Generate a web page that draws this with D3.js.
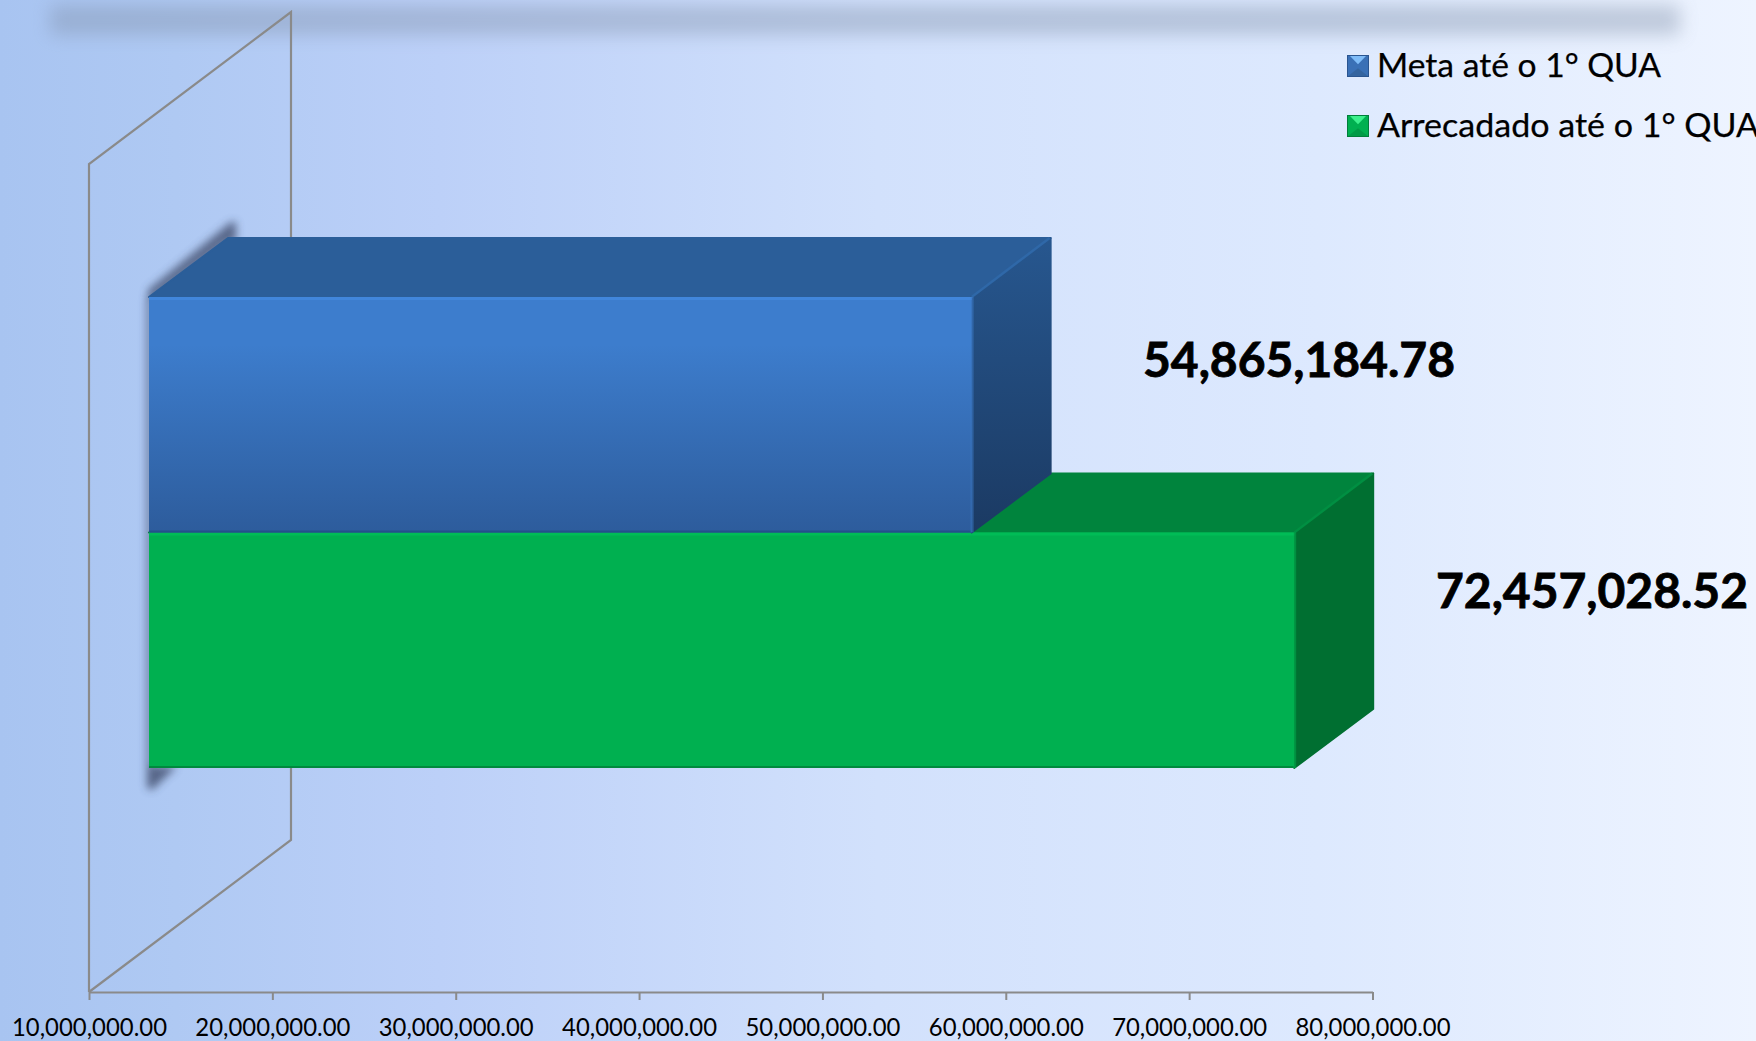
<!DOCTYPE html>
<html>
<head>
<meta charset="utf-8">
<script src="https://cdn.jsdelivr.net/npm/d3@7"></script>
<style>
html,body{margin:0;padding:0;background:#e8f0ff;overflow:hidden}
svg{display:block}
text{font-family:Lato,"Open Sans",sans-serif;fill:#000}
</style>
</head>
<body>
<svg id="chart" width="1756" height="1041"></svg>
<script>
// Collection figures for the first quarter
const seriesNames = ["Meta até o 1° QUA", "Arrecadado até o 1° QUA"];
const seriesValues = [54865184.78, 72457028.52];
const axisTicks = [10000000, 20000000, 30000000, 40000000, 50000000, 60000000, 70000000, 80000000];

const W = 1756, H = 1041;
const svg = d3.select("#chart");
const defs = svg.append("defs");

// Perspective offsets of the oblique 3D box
const wallDepth = {dx: 202, dy: -152};
const gapDepth = {dx: 60, dy: -44};
const barDepth = {dx: 79, dy: -59};

const x = d3.scaleLinear().domain([10000000, 80000000]).range([89, 1372.5]);
const y = d3.scaleBand().domain(seriesNames).range([297, 768]);
const axisY = 992;
const wallTop = 164;

const styles = [
  {top: "#2b5e99", topEdge: "#2f68a8", side0: "#27578f", side1: "#1b3a63", front0: "#3d7dcd", front1: "#2d5c9c", edge: "#24508a", sw0: "#7fbcf8", sw1: "#3a70b6", sw2: "#2a5590", sw3: "#34649f"},
  {top: "#00843d", topEdge: "#008f42", side0: "#006f31", side1: "#006f31", front0: "#00b050", front1: "#00b050", edge: "#008a3e", sw0: "#3cf08c", sw1: "#00b050", sw2: "#007f3a", sw3: "#009a46"}
];

function linear(id, horizontal, stops) {
  const g = defs.append("linearGradient").attr("id", id)
    .attr("x1", 0).attr("y1", 0).attr("x2", horizontal ? 1 : 0).attr("y2", horizontal ? 0 : 1);
  stops.forEach(([o, c]) => g.append("stop").attr("offset", o).attr("stop-color", c));
}
linear("bg", true, [[0, "#a8c4f1"], [0.1, "#afc9f3"], [0.25, "#bcd0f8"], [0.5, "#d2e1fc"], [0.75, "#dde9fe"], [1, "#eef4ff"]]);
styles.forEach((s, i) => {
  linear("front" + i, false, [[0, s.front0], [0.2, s.front0], [1, s.front1]]);
  linear("side" + i, false, [[0, s.side0], [1, s.side1]]);
});
defs.append("filter").attr("id", "blurBand").attr("x", "-5%").attr("y", "-150%").attr("width", "110%").attr("height", "400%")
  .append("feGaussianBlur").attr("stdDeviation", 9);
defs.append("filter").attr("id", "blurShadow").attr("x", "-30%").attr("y", "-30%").attr("width", "160%").attr("height", "160%")
  .append("feGaussianBlur").attr("stdDeviation", 4.5);

// Page background and the soft band along the top edge
svg.append("rect").attr("width", W).attr("height", H).attr("fill", "url(#bg)");
svg.append("rect").attr("x", 50).attr("y", 5).attr("width", 1630).attr("height", 30)
  .attr("fill", "#7f8fa8").attr("opacity", 0.4).attr("filter", "url(#blurBand)");

// Side wall of the 3D plot area
const wallLine = d3.line();
svg.append("path")
  .attr("d", wallLine([
    [x(axisTicks[0]), axisY],
    [x(axisTicks[0]), wallTop],
    [x(axisTicks[0]) + wallDepth.dx, wallTop + wallDepth.dy],
    [x(axisTicks[0]) + wallDepth.dx, axisY + wallDepth.dy],
    [x(axisTicks[0]), axisY]
  ]))
  .attr("fill", "none")
  .attr("stroke", "#8a8a8a").attr("stroke-width", 2.2);

// Shadows the boxes throw on the wall
const bx0 = x(axisTicks[0]) + gapDepth.dx;
const yTop = y.range()[0], yBot = y.range()[1];
const shadow = svg.append("g").attr("filter", "url(#blurShadow)").attr("fill", "#34405e").attr("opacity", 0.72);
shadow.append("path").attr("d", wallLine([
  [bx0 - 1, yTop + 6], [bx0 - 1, yTop - 7], [bx0 + barDepth.dx + 3, yTop + barDepth.dy - 16],
  [bx0 + barDepth.dx + 8, yTop + barDepth.dy - 16], [bx0 + barDepth.dx + 8, yTop + barDepth.dy + 4], [bx0 + barDepth.dx, yTop + barDepth.dy + 4]
]));
shadow.append("rect").attr("x", bx0 - 2).attr("y", yTop).attr("width", 5).attr("height", yBot - yTop);
shadow.append("path").attr("d", wallLine([
  [bx0 - 2, yBot - 2], [bx0 - 2, yBot + 20], [bx0 + 3, yBot + 22], [bx0 + 28, yBot - 2]
]));

// One oblique box per series; the later (lower) series goes underneath
const bars = seriesNames.map((name, i) => ({name, value: seriesValues[i], i}));
const barG = svg.selectAll("g.bar").data(bars.slice().reverse()).join("g").attr("class", "bar");
barG.each(function (d) {
  const g = d3.select(this), s = styles[d.i];
  const x0 = bx0, x1 = x(d.value) + gapDepth.dx;
  const y0 = y(d.name), y1 = y0 + y.bandwidth();
  const ddx = barDepth.dx, ddy = barDepth.dy;
  g.append("path").attr("fill", s.top).attr("stroke", s.top).attr("stroke-width", 2).attr("stroke-linejoin", "round")
    .attr("d", wallLine([[x0, y0], [x0 + ddx, y0 + ddy], [x1 + ddx, y0 + ddy], [x1, y0]]) + "Z");
  g.append("path").attr("fill", `url(#side${d.i})`).attr("stroke", `url(#side${d.i})`).attr("stroke-width", 2).attr("stroke-linejoin", "round")
    .attr("d", wallLine([[x1, y0], [x1 + ddx, y0 + ddy], [x1 + ddx, y1 + ddy], [x1, y1]]) + "Z");
  g.append("line").attr("x1", x1).attr("y1", y0).attr("x2", x1 + ddx - 1).attr("y2", y0 + ddy)
    .attr("stroke", s.topEdge).attr("stroke-width", 2.5);
  g.append("rect").attr("x", x0).attr("y", y0).attr("width", x1 - x0).attr("height", y1 - y0)
    .attr("fill", `url(#front${d.i})`);
  g.append("rect").attr("x", x0).attr("y", y0).attr("width", x1 - x0).attr("height", 3).attr("fill", s.front0).attr("style", "filter:brightness(1.07)");
  g.append("rect").attr("x", x0).attr("y", y1 - 2).attr("width", x1 - x0).attr("height", 2).attr("fill", s.edge);
  g.append("rect").attr("x", x1 - 1).attr("y", y0).attr("width", 3).attr("height", y1 - y0).attr("fill", s.front0).attr("opacity", 0.5);
});

// Value axis
const axisG = svg.append("g").attr("transform", `translate(0,${axisY})`)
  .call(d3.axisBottom(x).tickValues(axisTicks).tickFormat(d3.format(",.2f")).tickSize(8).tickSizeOuter(0));
axisG.select(".domain").attr("stroke", "#8a8a8a").attr("stroke-width", 2.2);
axisG.selectAll(".tick line").attr("stroke", "#8a8a8a").attr("stroke-width", 2);
axisG.selectAll(".tick text")
  .attr("y", 0).attr("dy", 0).attr("transform", "translate(0,44)")
  .attr("font-size", 25).style("font-family", "Lato,sans-serif").attr("fill", "#000")
  .attr("textLength", 155).attr("lengthAdjust", "spacingAndGlyphs");

// Value labels beside each box
const labelFormat = d3.format(",.2f");
const labelPos = [{x: 1143, y: 377}, {x: 1436, y: 608}];
svg.selectAll("text.value").data(bars).join("text").attr("class", "value")
  .attr("x", d => labelPos[d.i].x).attr("y", d => labelPos[d.i].y)
  .attr("font-size", 48).attr("font-weight", 700)
  .attr("stroke", "#000").attr("stroke-width", 0.8)
  .attr("textLength", 312).attr("lengthAdjust", "spacingAndGlyphs")
  .text(d => labelFormat(d.value));

// Legend with bevelled swatches
const legendY = [55, 115];
const legendWidth = [284, 382];
const legend = svg.selectAll("g.legend").data(bars).join("g").attr("class", "legend")
  .attr("transform", d => `translate(1347,${legendY[d.i]})`);
legend.each(function (d) {
  const g = d3.select(this), s = styles[d.i], a = 22;
  g.append("rect").attr("width", a).attr("height", a).attr("fill", s.sw1);
  g.append("path").attr("fill", s.sw0).attr("d", wallLine([[2, 0], [a - 2, 0], [a / 2, a * 0.42]]) + "Z");
  g.append("path").attr("fill", s.sw3).attr("d", wallLine([[0, a], [a, a], [a / 2, a * 0.6]]) + "Z");
  g.append("rect").attr("x", 0.5).attr("y", 0.5).attr("width", a - 1).attr("height", a - 1)
    .attr("fill", "none").attr("stroke", s.sw2);
  g.append("text").attr("x", 30).attr("y", 22).attr("font-size", 32).attr("stroke", "#000").attr("stroke-width", 0.25)
    .attr("textLength", legendWidth[d.i]).attr("lengthAdjust", "spacingAndGlyphs").text(d.name);
});
</script>
</body>
</html>
